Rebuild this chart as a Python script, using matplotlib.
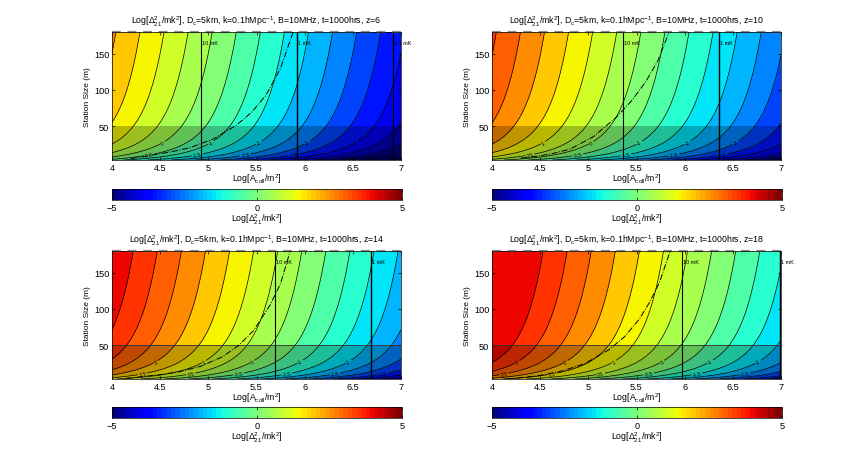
import numpy as np
import matplotlib
matplotlib.use('Agg')
import matplotlib.pyplot as plt
from matplotlib.colors import Normalize

plt.rcParams['font.family'] = ['Liberation Sans', 'DejaVu Sans']
plt.rcParams['mathtext.fontset'] = 'custom'
plt.rcParams['mathtext.rm'] = 'Liberation Sans'
plt.rcParams['mathtext.it'] = 'Liberation Sans:italic'
plt.rcParams['mathtext.bf'] = 'Liberation Sans:bold'
FS_TICK = 6.6
FS_LAB = 6.3

# ---------------- data ----------------
redshifts = [6, 10, 14, 18]
# Log[Delta^2] at (Log A = 4, station size = 180 m), per panel
top_left_value = [2.08, 3.09, 3.94, 4.56]
# change of Log[Delta^2] per dex of collecting area
area_slope = 2.0
size_p = 1.0
size_n = 2.0
size_y1 = 35.0
# contour levels (the highest drawn level is 3.5)
level_min, level_max, level_step = -9.0, 3.5, 0.5
# vertical reference lines (Log A positions)
line_10mK = [4.92, 5.36, 5.69, 5.97]
line_1mK = [5.92, 6.36, 6.69, 6.99]
line_01mK = [6.92, None, None, None]
# dash-dot curves
dashdot_x = [[4.20, 4.36, 4.60, 4.81, 5.05, 5.29, 5.45, 5.60, 5.75, 5.88],
             [4.30, 4.46, 4.63, 4.81, 5.05, 5.29, 5.45, 5.60, 5.72, 5.84],
             [4.15, 4.29, 4.50, 4.70, 4.93, 5.15, 5.32, 5.47, 5.64, 5.75, 5.85],
             [4.15, 4.32, 4.50, 4.70, 4.96, 5.22, 5.38, 5.53, 5.64, 5.74, 5.85]]
dashdot_y = [[5.0, 8.5, 14.0, 20.0, 32.0, 51.0, 69.0, 93.0, 130.0, 180.0],
             [5.5, 8.0, 12.0, 18.0, 35.0, 62.0, 85.0, 112.0, 140.0, 180.0],
             [4.0, 6.0, 9.0, 13.0, 21.0, 34.0, 50.0, 70.0, 105.0, 135.0, 180.0],
             [3.3, 5.0, 8.0, 13.0, 24.0, 44.0, 62.0, 86.0, 110.0, 137.0, 180.0]]
xticks = [4, 4.5, 5, 5.5, 6, 6.5, 7]
yticks = [50, 100, 150]
cbar_ticks = [-5, 0, 5]

# ---------------- layout ----------------
W, H = 863, 460
fig = plt.figure(figsize=(W / 100, H / 100), dpi=100)
ax_lefts = [112, 492, 112, 492]
ax_tops = [33, 33, 252, 252]
ax_w, ax_h = 289, 128
cb_tops = [190, 190, 408, 408]
cb_h = 11

cmap = plt.get_cmap('jet', 64)
norm = Normalize(-5, 5)
levels = list(np.arange(level_min, level_max + 1e-9, level_step))
fill_levels = levels + [100.0]
# each filled band takes the colour of its upper bounding level
uppers = levels[1:] + [level_max + level_step]
band_colors = [cmap(norm(np.clip(l, -5, 4.99))) for l in uppers]

xg = np.linspace(4, 7, 400)
yg = np.linspace(3, 180, 500)
X, Y = np.meshgrid(xg, yg)


def size_term(y):
    base = size_p * np.log10(y / 180.0)
    n = size_n
    extra = (np.log10(y ** n / (y ** n + size_y1 ** n))
             - np.log10(180.0 ** n / (180.0 ** n + size_y1 ** n))) / n
    return base + extra


title_fmt = (r'Log[$\Delta^2_{21}$/mk$^2$], D$_\mathrm{c}$=5km, k=0.1hMpc$^{-1}$, '
             r'B=10MHz, t=1000hrs, z=%d')

for i, z in enumerate(redshifts):
    ax = fig.add_axes([ax_lefts[i] / W, 1 - (ax_tops[i] + ax_h) / H, ax_w / W, ax_h / H])
    F = top_left_value[i] - area_slope * (X - 4) + size_term(Y)
    ax.contourf(X, Y, F, levels=fill_levels, colors=band_colors)
    cs = ax.contour(X, Y, F, levels=levels, colors='k', linewidths=0.5,
                    negative_linestyles='solid')
    man = []
    for k, l in enumerate(levels):
        yy = 27.0 if k % 2 == 0 else 10.0
        xx = (top_left_value[i] + size_term(yy) - l) / area_slope + 4
        if 4.05 < xx < 6.95:
            man.append((xx, yy))
    if man:
        ax.clabel(cs, manual=man, fontsize=3.7, inline=True, inline_spacing=1, fmt='%g')
    ax.axhspan(3, 50, color='black', alpha=0.25, lw=0)
    if i >= 2:
        ax.axhline(50, color='0.2', lw=0.6)
    ax.axvline(line_10mK[i], color='k', lw=0.8)
    ax.text(line_10mK[i] + 0.01, 165, '10 mK', fontsize=4.0, va='center', ha='left')
    ax.axvline(line_1mK[i], color='k', lw=1.0)
    ax.text(line_1mK[i] + 0.01, 165, '1 mK', fontsize=4.0, va='center', ha='left', clip_on=False)
    if line_01mK[i] is not None:
        ax.axvline(line_01mK[i], color='k', lw=0.8)
        ax.text(line_01mK[i] + 0.01, 165, '0.1 mK', fontsize=4.0, va='center', ha='left', clip_on=False)
    ax.plot(dashdot_x[i], dashdot_y[i], color='k', lw=0.7, ls='-.')
    ax.plot([4, 7], [180, 180], color='0.55', lw=1.6, ls=(0, (4, 3)), clip_on=False)
    ax.set_xlim(4, 7)
    ax.set_ylim(3, 180)
    ax.set_xticks(xticks)
    ax.set_xticklabels(['%g' % t for t in xticks])
    ax.set_yticks(yticks)
    ax.tick_params(direction='in', length=2.5, width=0.5, labelsize=FS_TICK, top=True, right=True, pad=2)
    for s in ax.spines.values():
        s.set_linewidth(0.5)
    ax.set_xlabel(r'Log[A$_\mathrm{coll}$/m$^2$]', fontsize=FS_LAB, labelpad=0)
    ax.set_ylabel('Station Size (m)', fontsize=6.0, labelpad=2)
    ax.set_title(title_fmt % z, fontsize=FS_LAB, pad=6)

    cax = fig.add_axes([ax_lefts[i] / W, 1 - (cb_tops[i] + cb_h) / H, 290 / W, cb_h / H])
    sm = plt.cm.ScalarMappable(norm=norm, cmap=cmap)
    cb = fig.colorbar(sm, cax=cax, orientation='horizontal', ticks=cbar_ticks)
    cb.outline.set_linewidth(0.5)
    cax.tick_params(direction='in', length=2.5, width=0.5, labelsize=FS_TICK, top=True, pad=2)
    cb.set_label(r'Log[$\Delta^2_{21}$/mk$^2$]', fontsize=FS_LAB, labelpad=0)

fig.savefig('out.png', dpi=100)
